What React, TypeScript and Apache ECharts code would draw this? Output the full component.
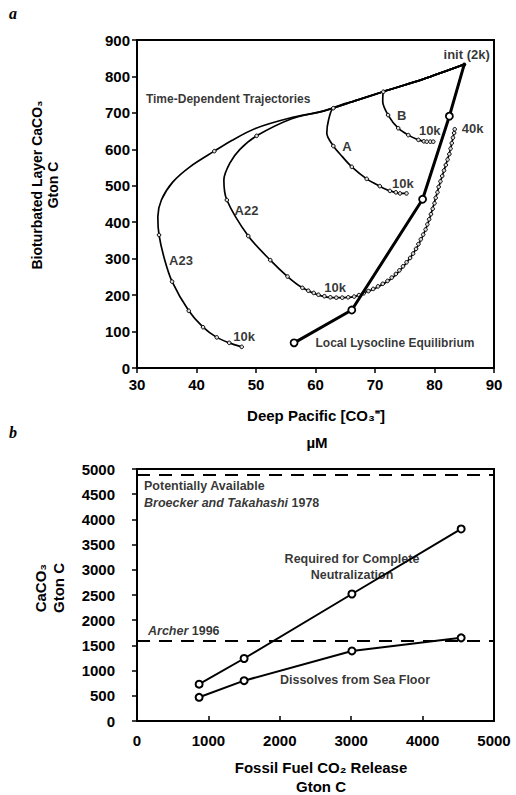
import React, { useEffect, useRef } from "react";
import * as echarts from "echarts";

// ---------- Panel a data (Deep Pacific [CO3=] µM, Bioturbated CaCO3 Gton C) ----------
const initPoint: number[][] = [[85, 833]];
const lysocline: number[][] = [
  [56.4, 69], [66.1, 159], [78, 463], [82.5, 691], [85, 833],
];
const a23Path: number[][] = [
  [85, 833], [78, 792], [72.5, 764], [67, 735], [61.3, 705], [55.7, 686], [50, 658],
  [46, 625], [43, 595], [38.9, 552], [36, 510], [34.1, 461], [33.5, 415], [33.7, 365],
  [34.6, 300], [35.9, 237], [38.7, 157], [41.1, 112], [43.4, 84], [45.5, 69], [47.6, 58],
];
const a23Marks: number[][] = [
  [43, 595], [33.7, 365], [35.9, 237], [38.7, 157], [41.1, 112], [43.4, 84], [45.5, 69], [47.6, 58],
];
const a22Path: number[][] = [
  [85, 833], [78, 792], [72.5, 764], [67, 735], [61.3, 705], [56, 684], [50.1, 637],
  [47.3, 600], [45.6, 562], [44.6, 516], [45.1, 461], [48.7, 362], [52.4, 296], [55.3, 251],
  [57.8, 220], [60.2, 202], [62.7, 193], [64.7, 193], [66.6, 196], [68.6, 209], [70.3, 221],
  [72.5, 242], [74.2, 268], [75.9, 302], [77.3, 338], [78.5, 380], [79.4, 422], [80.2, 467],
  [81, 512], [81.9, 557], [82.7, 602], [83.4, 655],
];
const a22Marks: number[][] = [
  [50.1, 637], [45.1, 461], [48.7, 362], [52.4, 296], [55.3, 251], [57.8, 220],
  [58.8, 212], [59.7, 206], [60.5, 201], [61.5, 197], [62.5, 194], [63.5, 193], [64.5, 193],
  [65.5, 194], [66.5, 196], [67.3, 200], [68.1, 205], [68.9, 211], [69.7, 217], [70.5, 224],
  [71.3, 231], [72.1, 239], [72.8, 248], [73.5, 258], [74.1, 268], [74.7, 279], [75.3, 290],
  [75.9, 302], [76.4, 314], [76.9, 327], [77.3, 340], [77.7, 353], [78.1, 366], [78.5, 380],
  [78.8, 394], [79.1, 408], [79.4, 422], [79.7, 437], [80, 452], [80.2, 467], [80.5, 482],
  [80.7, 497], [81, 512], [81.3, 527], [81.6, 542], [81.9, 557], [82.2, 572], [82.5, 587],
  [82.7, 602], [82.9, 617], [83.1, 632], [83.3, 645], [83.4, 655],
];
const aPath: number[][] = [
  [85, 833], [78, 792], [72.5, 764], [67, 735], [63, 713], [62.2, 681], [61.9, 644],
  [63, 609], [64.5, 580], [66.1, 552], [68.6, 519], [70.8, 499], [72.5, 486], [74.2, 479], [75.3, 479],
];
const aMarks: number[][] = [
  [63, 713], [63, 609], [66.1, 552], [68.6, 519], [70.8, 499], [72.5, 486], [73.5, 482], [74.2, 479], [75.3, 479],
];
const bPath: number[][] = [
  [85, 833], [78, 792], [72.5, 764], [71.4, 758], [71.3, 731], [72.2, 694], [73.9, 658],
  [75.6, 639], [77.3, 626], [78.7, 621], [79.8, 621],
];
const bMarks: number[][] = [
  [71.4, 758], [72.2, 694], [73.9, 658], [75.6, 639], [77.3, 626], [78.2, 622], [78.7, 621], [79.3, 621], [79.8, 621],
];
const topLabelsCenter: { name: string; value: number[] }[] = [
  { name: "init (2k)", value: [85.4, 859] },
  { name: "B", value: [74.5, 692] },
  { name: "A", value: [65.3, 607] },
  { name: "10k", value: [79.2, 653] },
  { name: "10k", value: [74.7, 505] },
  { name: "40k", value: [86.4, 658] },
  { name: "A22", value: [48.4, 432] },
  { name: "A23", value: [37.4, 294] },
  { name: "10k", value: [48, 86] },
  { name: "10k", value: [63.3, 221] },
];
const topLabelsLeft: { name: string; value: number[] }[] = [
  { name: "Time-Dependent Trajectories", value: [31.5, 738] },
  { name: "Local Lysocline Equilibrium", value: [60, 68] },
];

// ---------- Panel b data (Fossil fuel CO2 release, CaCO3 Gton C) ----------
const releases = [870, 1500, 3010, 4540];
const requiredNeutralization = [730, 1240, 2520, 3810];
const dissolvesSeaFloor = [470, 800, 1390, 1650];
const potentiallyAvailable = 4880;
const archer1996 = 1590;
const bottomLabelsLeft: { name: string; value: number[] }[] = [
  { name: "Potentially Available", value: [98, 4663] },
  { name: "{i|Broecker and Takahashi} 1978", value: [98, 4325] },
  { name: "{i|Archer} 1996", value: [154, 1786] },
];
const bottomLabelsCenter: { name: string; value: number[] }[] = [
  { name: "Required for Complete\nNeutralization", value: [3011, 3065] },
  { name: "Dissolves from Sea Floor", value: [3053, 813] },
];

const FONT = "'Liberation Sans', Arial, Helvetica, sans-serif";

export default function App() {
  const ref = useRef<HTMLDivElement>(null);
  useEffect(() => {
    if (!ref.current) return;
    const chart = echarts.init(ref.current, undefined, { renderer: "svg" });
    const axisLine = { show: true, lineStyle: { color: "#000", width: 2 } };
    const axisLabel = (margin: number) => ({
      color: "#000", fontSize: 15, fontWeight: "bold", fontFamily: FONT, margin,
      formatter: (v: number) => String(v),
    });
    const trajLine = (data: number[][]) => ({
      type: "line", xAxisIndex: 0, yAxisIndex: 0, data, smooth: 0.3, showSymbol: false, symbol: "none",
      lineStyle: { color: "#000", width: 1.7 }, z: 3,
    });
    const trajMarks = (data: number[][]) => ({
      type: "scatter", xAxisIndex: 0, yAxisIndex: 0, data, symbol: "circle", symbolSize: 3.6,
      itemStyle: { color: "#ddd", borderColor: "#000", borderWidth: 1, opacity: 1 }, z: 4,
    });
    const labelStyle = (fs: number) => ({ color: "#000", fontSize: fs, fontWeight: "bold", fontFamily: FONT });
    const lineB = (vals: number[]) => ({
      type: "line", xAxisIndex: 1, yAxisIndex: 1,
      data: releases.map((x, i) => [x, vals[i]]),
      symbol: "emptyCircle", symbolSize: 7,
      lineStyle: { color: "#000", width: 2 },
      itemStyle: { color: "#000", borderColor: "#000", borderWidth: 2 }, z: 4,
    });
    const option: any = {
      animation: false,
      backgroundColor: "#fff",
      grid: [
        { left: 137, right: 22, top: 40, height: 328, show: true, borderColor: "#000", borderWidth: 2 },
        { left: 137, right: 22, top: 469, height: 252, show: true, borderColor: "#000", borderWidth: 2 },
      ],
      xAxis: [
        {
          type: "value", gridIndex: 0, min: 30, max: 90, interval: 10,
          axisLine, axisTick: { length: 5, lineStyle: { color: "#000", width: 1.5 } },
          axisLabel: axisLabel(9), splitLine: { show: false },
        },
        {
          type: "value", gridIndex: 1, min: 0, max: 5000, interval: 1000,
          axisLine, axisTick: { inside: true, length: 5, lineStyle: { color: "#000", width: 1.5 } },
          axisLabel: axisLabel(12), splitLine: { show: false },
        },
      ],
      yAxis: [
        {
          type: "value", gridIndex: 0, min: 0, max: 900, interval: 100,
          axisLine, axisTick: { length: 5, lineStyle: { color: "#000", width: 1.5 } },
          axisLabel: axisLabel(7), splitLine: { show: false },
        },
        {
          type: "value", gridIndex: 1, min: 0, max: 5000, interval: 500,
          axisLine, axisTick: { length: 5, lineStyle: { color: "#000", width: 1.5 } },
          axisLabel: axisLabel(22), splitLine: { show: false },
        },
      ],
      series: [
        trajLine(a23Path), trajMarks(a23Marks),
        trajLine(a22Path), trajMarks(a22Marks),
        trajLine(aPath), trajMarks(aMarks),
        trajLine(bPath), trajMarks(bMarks),
        {
          type: "line", xAxisIndex: 0, yAxisIndex: 0, data: lysocline,
          showSymbol: false, symbol: "none",
          lineStyle: { color: "#000", width: 3 }, z: 5,
        },
        {
          type: "scatter", xAxisIndex: 0, yAxisIndex: 0, data: lysocline.slice(0, lysocline.length - 1),
          symbol: "circle", symbolSize: 7,
          itemStyle: { color: "#fff", borderColor: "#000", borderWidth: 1.8, opacity: 1 }, z: 6,
        },
        {
          type: "scatter", xAxisIndex: 0, yAxisIndex: 0, data: initPoint, symbol: "circle", symbolSize: 4,
          itemStyle: { color: "#000", opacity: 1 }, z: 6,
        },
        {
          type: "scatter", xAxisIndex: 0, yAxisIndex: 0, data: topLabelsCenter, symbolSize: 0, z: 7,
          label: { show: true, position: "inside", formatter: "{b}", ...labelStyle(13) },
        },
        {
          type: "scatter", xAxisIndex: 0, yAxisIndex: 0, data: topLabelsLeft, symbolSize: 0, z: 7,
          label: { show: true, position: "right", distance: 0, formatter: "{b}", ...labelStyle(12) },
        },
        {
          ...lineB(requiredNeutralization),
          markLine: {
            silent: true, symbol: "none", label: { show: false },
            lineStyle: { color: "#000", width: 2, type: [13, 9] },
            data: [{ yAxis: potentiallyAvailable }, { yAxis: archer1996 }],
          },
        },
        lineB(dissolvesSeaFloor),
        {
          type: "scatter", xAxisIndex: 1, yAxisIndex: 1, data: bottomLabelsLeft, symbolSize: 0, z: 7,
          label: {
            show: true, position: "right", distance: 0, formatter: "{b}", ...labelStyle(12.5),
            rich: { i: { fontStyle: "italic", fontWeight: "bold", fontSize: 12.5, fontFamily: FONT, color: "#000" } },
          },
        },
        {
          type: "scatter", xAxisIndex: 1, yAxisIndex: 1, data: bottomLabelsCenter, symbolSize: 0, z: 7,
          label: { show: true, position: "inside", formatter: "{b}", lineHeight: 16, ...labelStyle(12.5) },
        },
      ],
      graphic: [
        { type: "text", left: 9, top: 5, style: { text: "a", font: "italic bold 16px 'Liberation Serif', serif", fill: "#000" } },
        { type: "text", left: 9, top: 424, style: { text: "b", font: "italic bold 16px 'Liberation Serif', serif", fill: "#000" } },
        {
          type: "text", x: 45, y: 185, rotation: Math.PI / 2,
          style: {
            text: "Bioturbated Layer CaCO₃\nGton C", font: `bold 14px ${FONT}`, fill: "#000",
            align: "center", verticalAlign: "middle", lineHeight: 16,
          },
        },
        {
          type: "text", x: 316, y: 415,
          style: { text: "Deep Pacific [CO₃⁼]", font: `bold 15px ${FONT}`, fill: "#000", align: "center", verticalAlign: "middle" },
        },
        {
          type: "text", x: 317, y: 442,
          style: { text: "µM", font: `bold 15px ${FONT}`, fill: "#000", align: "center", verticalAlign: "middle" },
        },
        {
          type: "text", x: 49, y: 588, rotation: Math.PI / 2,
          style: {
            text: "CaCO₃\nGton C", font: `bold 15px ${FONT}`, fill: "#000",
            align: "center", verticalAlign: "middle", lineHeight: 18,
          },
        },
        {
          type: "text", x: 321, y: 767,
          style: { text: "Fossil Fuel CO₂ Release", font: `bold 15px ${FONT}`, fill: "#000", align: "center", verticalAlign: "middle" },
        },
        {
          type: "text", x: 321, y: 786,
          style: { text: "Gton C", font: `bold 15px ${FONT}`, fill: "#000", align: "center", verticalAlign: "middle" },
        },
      ],
    };
    chart.setOption(option);
    return () => chart.dispose();
  }, []);
  return (
    <div
      ref={ref}
      style={{ position: "absolute", left: 0, top: 0, width: 516, height: 795, background: "#fff" }}
    />
  );
}
